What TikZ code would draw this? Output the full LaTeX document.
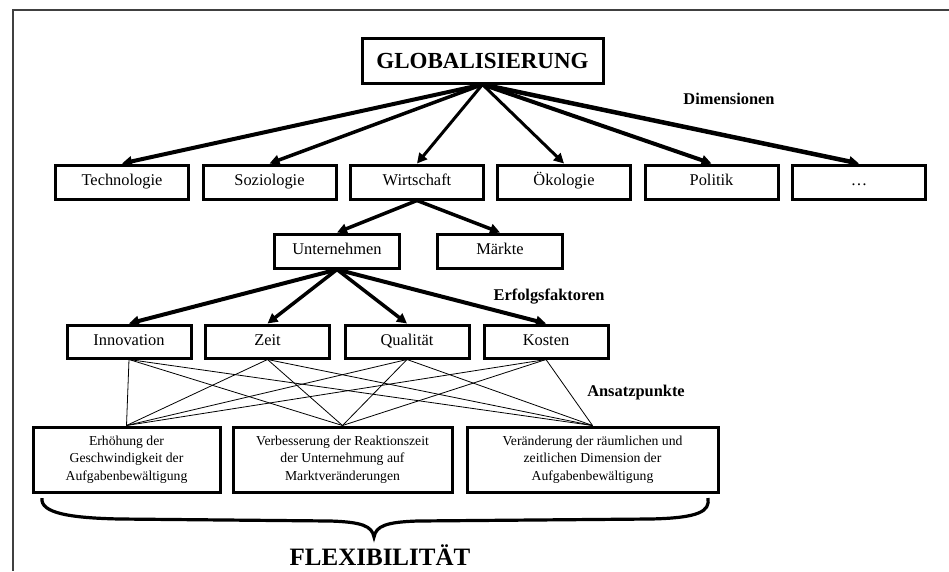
\documentclass[tikz,border=0pt]{standalone}
\usepackage{fontspec}
\setmainfont{Liberation Serif}
\usepackage{tikz}
\usetikzlibrary{arrows.meta}
\tikzstyle{box}=[draw, line width=3pt, inner sep=0pt, minimum height=34pt, text height=11.5pt, text depth=4pt, font=\fontsize{16.4}{19}\selectfont]
\tikzstyle{ansatz}=[draw, line width=3pt, inner sep=0pt, minimum height=65pt, align=center, font=\fontsize{13.7}{17.5}\selectfont]
\tikzstyle{dimlabel}=[font=\fontsize{16.4}{19}\selectfont\bfseries]
\tikzstyle{arrow}=[-{Triangle[length=10pt,width=10pt]}]

\begin{document}
\begin{tikzpicture}[x=1pt,y=-1pt,line join=miter]
            \useasboundingbox (0,0) rectangle (949,571);
            \draw[black!75, line width=1.8pt] (949,10) -- (13,10) -- (13,571);
            % Nodos
            \node[box, minimum width=241pt, minimum height=45pt, text height=16pt, text depth=1pt, font=\fontsize{23}{27}\selectfont\bfseries] (glob) at (482.5,60.5) {GLOBALISIERUNG};
            \node[box, minimum width=133pt] (tec)  at (122,182) {Technologie};
            \node[box, minimum width=133pt] (soz)  at (269.5,182) {Soziologie};
            \node[box, minimum width=133pt] (wirt) at (417,182) {Wirtschaft};
            \node[box, minimum width=133pt] (oeko) at (564,182) {Ökologie};
            \node[box, minimum width=133pt] (pol)  at (711.5,182) {Politik};
            \node[box, minimum width=133pt] (etc)  at (859,182) {…};
            \node[box, minimum width=125pt] (unt)  at (337,251) {Unternehmen};
            \node[box, minimum width=125pt] (mkt)  at (500,251) {Märkte};
            \node[box, minimum width=124pt, minimum height=33pt] (inn)  at (129,341.5) {Innovation};
            \node[box, minimum width=124pt, minimum height=33pt] (zeit) at (267.5,341.5) {Zeit};
            \node[box, minimum width=124pt, minimum height=33pt] (qual) at (407,341.5) {Qualität};
            \node[box, minimum width=124pt, minimum height=33pt] (kost) at (546,341.5) {Kosten};
            \node[ansatz, minimum width=187pt] (a1) at (126.5,459.5) {Erhöhung der\\Geschwindigkeit der\\Aufgabenbewältigung};
            \node[ansatz, minimum width=219pt] (a2) at (342.5,459.5) {Verbesserung der Reaktionszeit\\der Unternehmung auf\\Marktveränderungen};
            \node[ansatz, minimum width=251pt] (a3) at (592.5,459.5) {Veränderung der räumlichen und\\zeitlichen Dimension der\\Aufgabenbewältigung};
            \node[dimlabel] (dim) at (729,99) {Dimensionen};
            \node[dimlabel] (erf) at (549,297) {Erfolgsfaktoren};
            \node[dimlabel] (ans) at (636,393) {Ansatzpunkte};
            \node[font=\fontsize{25}{30}\selectfont\bfseries, anchor=base, inner sep=1pt] (flex) at (380,565) {FLEXIBILITÄT};
            % Flechas
            \foreach \n/\w in {tec/4, soz/3.5, wirt/3, oeko/3, pol/4, etc/4.5}
                \draw[arrow, line width=\w pt] (glob.south) -- (\n.north);
            \draw[arrow, line width=3.5pt] (wirt.south) -- (unt.north);
            \draw[arrow, line width=3.5pt] (wirt.south) -- (mkt.north);
            \foreach \n/\w in {inn/4, zeit/3.5, qual/3.5, kost/4}
                \draw[arrow, line width=\w pt] (unt.south) -- (\n.north);
            % Aristas
            \foreach \f in {inn, zeit, qual, kost}
                \foreach \t in {a1, a2, a3}
                    \draw[line width=0.8pt] (\f.south) -- (\t.north);
            % Llave
            \draw[line width=3.2pt] (42,498) .. controls (40,513) and (70,518) .. (120,519) -- (330,521)
                .. controls (362,522) and (372,526) .. (374,537)
                .. controls (376,526) and (386,522) .. (418,521) -- (650,519)
                .. controls (700,518) and (710,511) .. (708,498);
        \end{tikzpicture}
\end{document}
